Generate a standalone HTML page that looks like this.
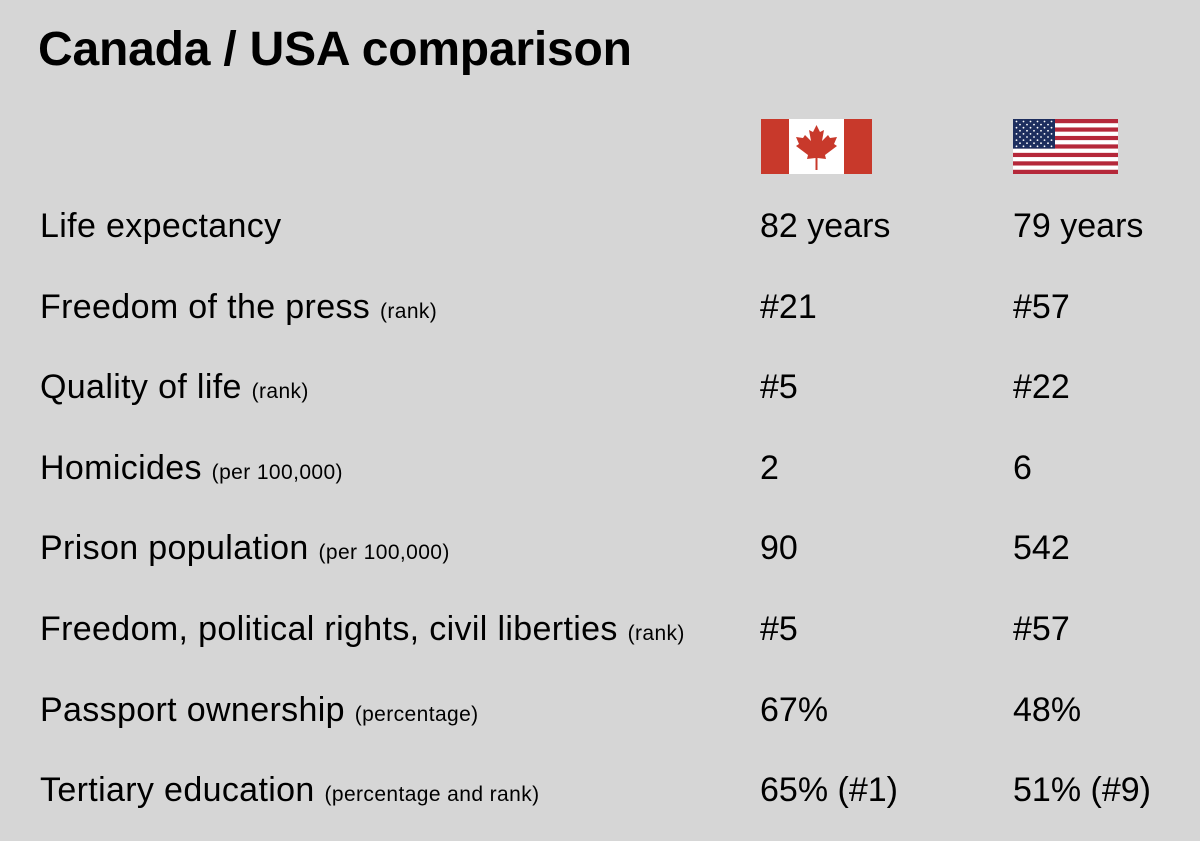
<!DOCTYPE html>
<html><head><meta charset="utf-8"><style>
html,body{margin:0;padding:0;}
body{width:1200px;height:841px;background:#d6d6d6;font-family:"Liberation Sans",Arial,sans-serif;color:#000;position:relative;overflow:hidden;}
h1{position:absolute;left:38px;top:22px;margin:0;font-size:48px;font-weight:bold;letter-spacing:-0.2px;line-height:56px;}
.row{position:absolute;left:0;width:1200px;height:40px;font-size:34px;line-height:40px;letter-spacing:0.35px;}
.row span{position:absolute;white-space:nowrap;}
.lab{left:40px;}
.lab small{font-size:21px;letter-spacing:0.4px;}
.c1{left:760px;letter-spacing:0;}
.c2{left:1013px;letter-spacing:0;}
svg{position:absolute;}
</style></head><body>
<h1>Canada / USA comparison</h1>
<svg style="left:761px;top:119px" width="111" height="55" viewBox="0 0 111 55">
<rect width="111" height="55" fill="#fff"/>
<rect width="28" height="55" fill="#c8392b"/><rect x="83" width="28" height="55" fill="#c8392b"/>
<path d="M55.5 6 L59 13 L63 11 L61 22 L67 16 L69 19 L76 18 L73 25 L76 27 L64 36 L65 40 L56.5 39 L56.5 51 L54.5 51 L54.5 39 L46 40 L47 36 L35 27 L38 25 L35 18 L42 19 L44 16 L50 22 L48 11 L52 13 Z" fill="#c8392b"/>
</svg>
<svg style="left:1013px;top:119px" width="105" height="55" viewBox="0 0 105 55" id="us"></svg>
<div id="rows"></div>
<script>
const labels=["Life expectancy","Freedom of the press","Quality of life","Homicides","Prison population","Freedom, political rights, civil liberties","Passport ownership","Tertiary education"];
const notes=["","(rank)","(rank)","(per 100,000)","(per 100,000)","(rank)","(percentage)","(percentage and rank)"];
const canada=["82 years","#21","#5","2","90","#5","67%","65% (#1)"];
const usa=["79 years","#57","#22","6","542","#57","48%","51% (#9)"];
const rows=document.getElementById('rows');
labels.forEach((l,i)=>{
  const r=document.createElement('div');
  r.className='row';
  r.style.top=(206+i*80.6)+'px';
  
  
  r.innerHTML='<span class="lab">'+l+(notes[i]?' <small>'+notes[i]+'</small>':'')+'</span><span class="c1">'+canada[i]+'</span><span class="c2">'+usa[i]+'</span>';
  rows.appendChild(r);
});
const us=document.getElementById('us');
let s='';
for(let k=0;k<13;k++){s+='<rect x="0" y="'+(k*55/13)+'" width="105" height="'+(55/13+0.2)+'" fill="'+(k%2?'#fff':'#b5283a')+'"/>';}
s+='<rect width="42" height="29.6" fill="#1d2e5e"/>';
for(let r=0;r<9;r++){const n=r%2?5:6;for(let c=0;c<n;c++){s+='<circle cx="'+(3.5+c*7+(r%2?3.5:0))+'" cy="'+(2.5+r*3.1)+'" r="0.9" fill="#fff"/>';}}
us.innerHTML=s;
</script>
</body></html>
